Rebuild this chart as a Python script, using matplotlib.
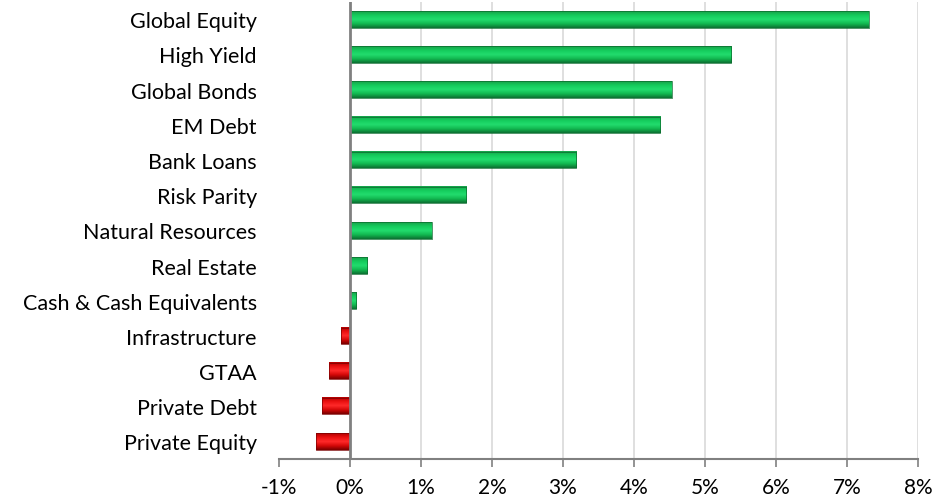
import numpy as np
import matplotlib.pyplot as plt
from matplotlib.colors import LinearSegmentedColormap

categories = ['Global Equity', 'High Yield', 'Global Bonds', 'EM Debt', 'Bank Loans',
              'Risk Parity', 'Natural Resources', 'Real Estate', 'Cash & Cash Equivalents',
              'Infrastructure', 'GTAA', 'Private Debt', 'Private Equity']
values = [7.31, 5.37, 4.53, 4.37, 3.19, 1.64, 1.15, 0.24, 0.09, -0.12, -0.29, -0.39, -0.48]
xticks = [-1, 0, 1, 2, 3, 4, 5, 6, 7, 8]

plt.rcParams['font.family'] = ['Lato', 'DejaVu Sans']

fig = plt.figure(figsize=(9.5, 5.02), dpi=100)
ax = fig.add_axes([0.2937, 0.0837, 0.6726, 0.911])

# gradient colormaps for the "3D" bar look
green = LinearSegmentedColormap.from_list('g', ['#17a04a', '#14cc5c', '#22dc6e', '#12b850', '#0c7032'])
red = LinearSegmentedColormap.from_list('r', ['#b00000', '#ea1010', '#ff2a2a', '#d40808', '#7a0000'])
grad = np.linspace(0, 1, 64).reshape(-1, 1)

h = 0.47
for i, v in enumerate(values):
    cmap = green if v >= 0 else red
    edge = '#0b6b2e' if v >= 0 else '#7a0000'
    x0, x1 = min(0, v), max(0, v)
    ax.imshow(grad, cmap=cmap, aspect='auto', extent=(x0, x1, i + h / 2, i - h / 2),
              zorder=3, interpolation='bilinear')
    ax.barh(i, v, height=h, facecolor='none', edgecolor=edge, linewidth=0.5, zorder=4)

# light vertical gridlines
for t in xticks[2:]:
    ax.axvline(t, color='#d9d9d9', linewidth=1.2, zorder=1)
ax.axvline(0, color='#808080', linewidth=2, zorder=5)

ax.set_xlim(-1, 8)
ax.set_ylim(12.5, -0.5)
ax.set_xticks(xticks)
ax.set_xticklabels([f'{t}%' for t in xticks], fontsize=15)
ax.set_yticks(range(len(categories)))
ax.set_yticklabels(categories, fontsize=15.5)

for s in ['top', 'right', 'left']:
    ax.spines[s].set_visible(False)
ax.spines['bottom'].set_color('#808080')
ax.spines['bottom'].set_linewidth(1.5)
ax.tick_params(axis='x', length=6, width=1.2, color='#808080', pad=7)
ax.tick_params(axis='y', length=0, pad=16)

fig.savefig('out.png', dpi=100)
